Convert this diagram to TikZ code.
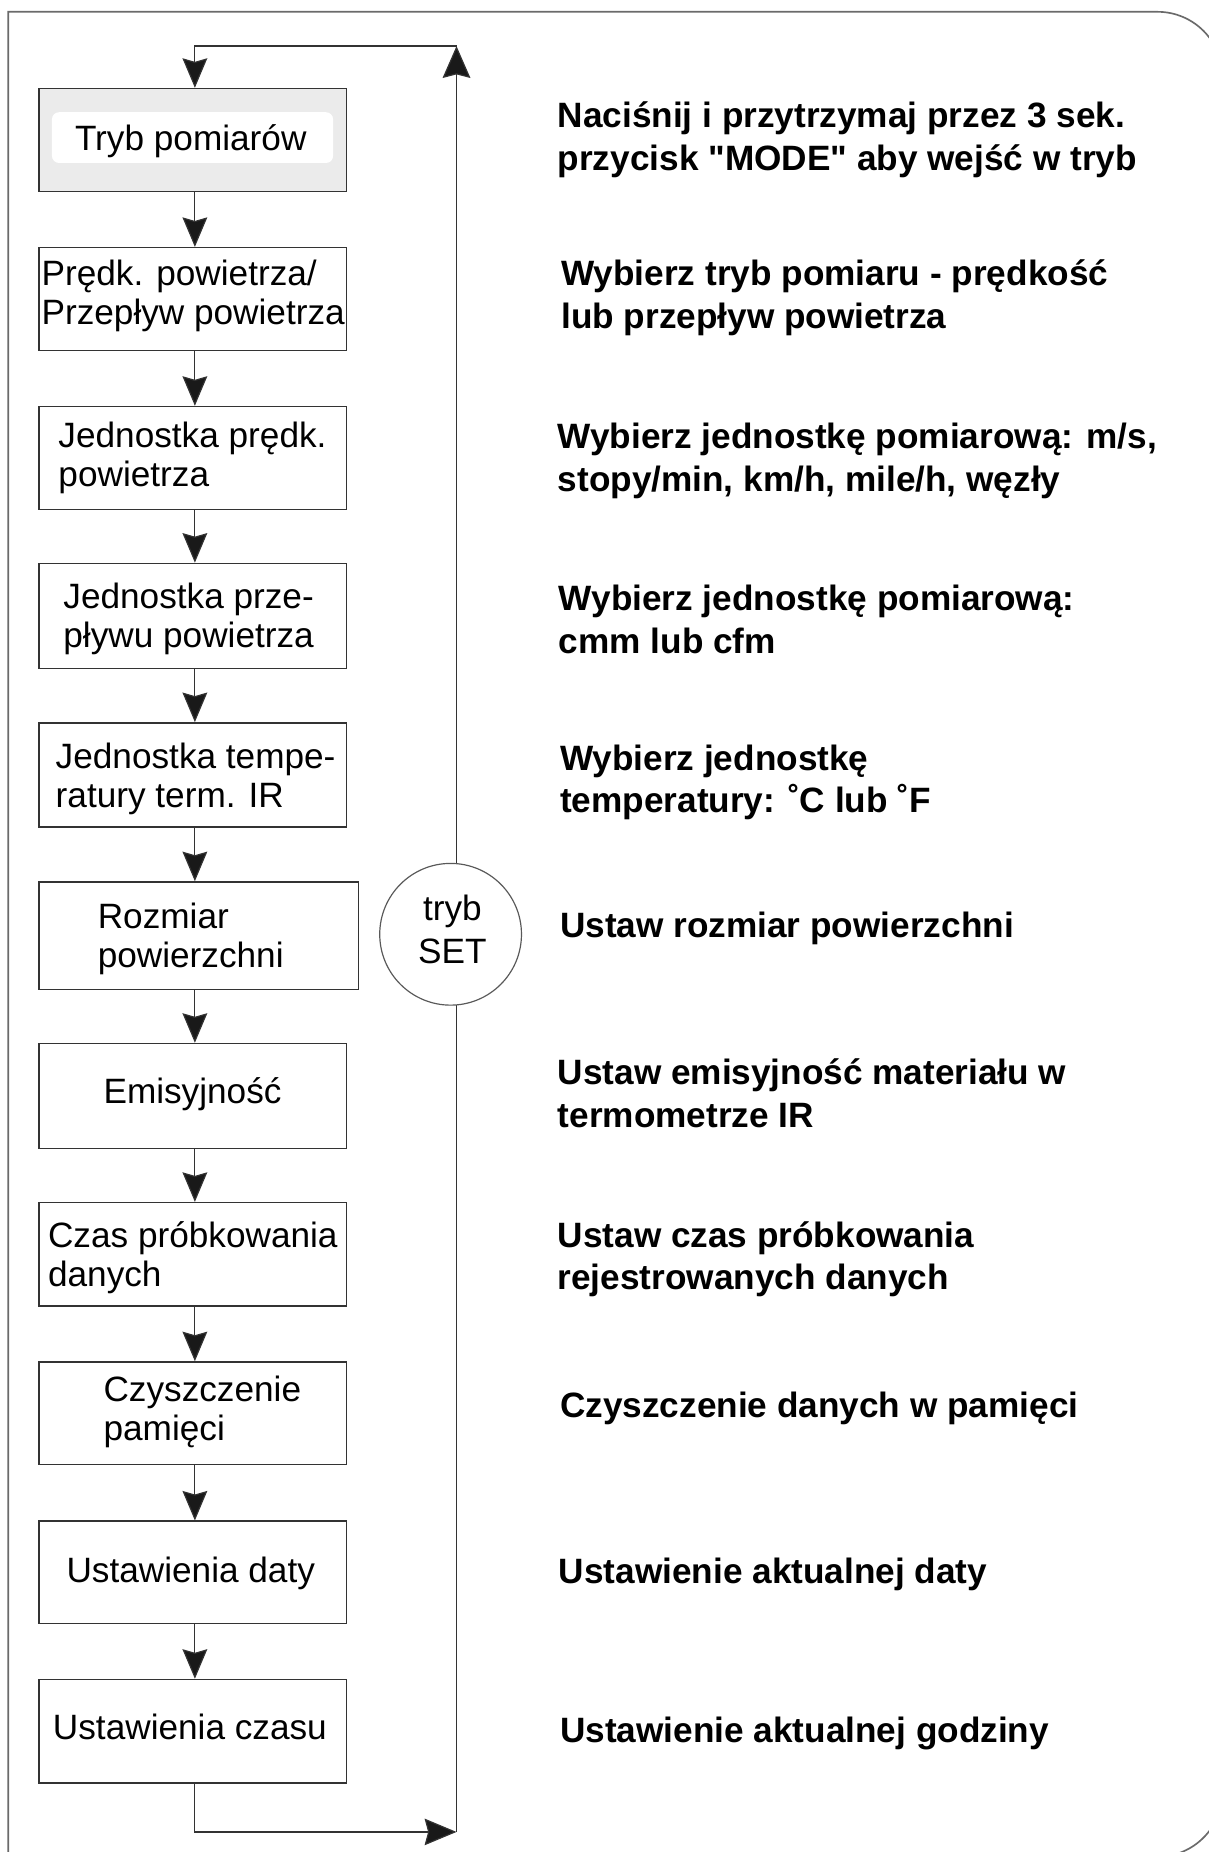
\documentclass[tikz,border=0pt]{standalone}
\usepackage{fontspec}
\setmainfont{Liberation Sans}[Ligatures=TeXOff]
\usetikzlibrary{arrows.meta}
\newcommand\bxfont{\fontsize{29.8pt}{33pt}\selectfont}
\newcommand\rtfont{\fontsize{29.8pt}{36pt}\selectfont\bfseries}
\definecolor{lineg}{HTML}{333333}
\definecolor{bordg}{HTML}{6A6A6A}
\definecolor{boxfill}{HTML}{EBEBEB}
\begin{document}
\begin{tikzpicture}[x=1pt,y=-1pt,
  box/.style={draw=lineg, line width=1.3pt, rectangle, inner sep=0pt, minimum width=260.5pt, minimum height=87pt},
  conn/.style={draw=lineg, line width=1pt},
  tipd/.style={-{Stealth[length=25pt,width=21pt,inset=3pt,fill=black!90]}},
  tipu/.style={-{Stealth[length=27pt,width=23.5pt,inset=3pt,fill=black!90]}},
  tipr/.style={-{Stealth[length=27pt,width=22.5pt,inset=3pt,fill=black!90]}},
  bt/.style={inner sep=0pt, anchor=base west, font=\bxfont},
  bc/.style={inner sep=0pt, anchor=base, font=\bxfont},
  rt/.style={inner sep=0pt, anchor=base west, font=\rtfont}]
\useasboundingbox (0,0) rectangle (1023,1568);
\fill[white] (0,0) rectangle (1023,1568);

% outer border
\draw[draw=bordg, line width=1.4pt] (7,1600) -- (7,10) -- (500,10) [rounded corners=55pt] -- (1035,10) -- (1035,1572) -- (500,1572);

% boxes
\node[box, fill=boxfill] (b1) at (163.3,118.5) {};
\fill[white, rounded corners=6pt] (44,95) rectangle (282,138);
\node[box] (b2) at (163.3,253.2) {};
\node[box] (b3) at (163.3,387.7) {};
\node[box, minimum height=89pt] (b4) at (163.3,521.5) {};
\node[box, minimum height=88pt] (b5) at (163.3,656) {};
\node[box, minimum width=270.7pt, minimum height=91pt] (b6) at (168.3,792.2) {};
\node[box, minimum height=89pt] (b7) at (163.3,928) {};
\node[box, minimum height=87.6pt] (b8) at (163.3,1062) {};
\node[box] (b9) at (163.3,1196.6) {};
\node[box, minimum height=86.5pt] (b10) at (163.3,1331.2) {};
\node[box, minimum height=87.7pt] (b11) at (163.3,1465.8) {};

% box texts
\node[bc] (t1) at (161.5,127) {Tryb pomiarów};
\node[bt] (t2a) at (35,242) {Prędk. powietrza/};
\node[bt] (t2b) at (35,275) {Przepływ powietrza};
\node[bt] (t3a) at (49.3,378.5) {Jednostka prędk.};
\node[bt] (t3b) at (49.3,411.5) {powietrza};
\node[bt] (t4a) at (53.5,515.5) {Jednostka prze-};
\node[bt] (t4b) at (53.5,548.5) {pływu powietrza};
\node[bt] (t5a) at (47,651) {Jednostka tempe-};
\node[bt] (t5b) at (47,684) {ratury term. IR};
\node[bt] (t6a) at (82.6,786.5) {Rozmiar};
\node[bt] (t6b) at (82.6,819.5) {powierzchni};
\node[bc] (t7) at (163,934.5) {Emisyjność};
\node[bt] (t8a) at (40.5,1056) {Czas próbkowania};
\node[bt] (t8b) at (40.5,1089) {danych};
\node[bt] (t9a) at (87.5,1186.5) {Czyszczenie};
\node[bt] (t9b) at (87.5,1219.5) {pamięci};
\node[bc] (t10) at (161.5,1340) {Ustawienia daty};
\node[bc] (t11) at (160.8,1472.7) {Ustawienia czasu};

% connectors
\coordinate (col) at (165,0);
\coordinate (tl) at (165,39);
\coordinate (tr) at (386.5,39);
\coordinate (br) at (386.5,1551);
\coordinate (bl) at (165,1551);
\foreach \a/\b in {b1/b2,b2/b3,b3/b4,b4/b5,b5/b6,b6/b7,b7/b8,b8/b9,b9/b10,b10/b11}
  \draw[conn, tipd] (\a.south -| col) -- (\b.north -| col);
\draw[conn, tipr] (b11.south -| col) -- (bl) -- (br);
\draw[conn, tipu] (br) -- (tr);
\draw[conn, tipd] (tr) -- (tl) -- (b1.north -| col);

% SET circle
\node[circle, draw=black!65, line width=1pt, fill=white, minimum size=120pt, inner sep=0pt] (set) at (381.5,791) {};
\node[bc] (s1) at (383,779) {tryb};
\node[bc] (s2) at (383,816) {SET};

% right descriptions
\node[rt] (r1a) at (472,108) {Naciśnij i przytrzymaj przez 3 sek.};
\node[rt] (r1b) at (472,144) {przycisk "MODE" aby wejść w tryb};
\node[rt] (r2a) at (475,242) {Wybierz tryb pomiaru - prędkość};
\node[rt] (r2b) at (475,278) {lub przepływ powietrza};
\node[rt] (r3a) at (472,380) {Wybierz jednostkę pomiarową: m/s,};
\node[rt] (r3b) at (472,416) {stopy/min, km/h, mile/h, węzły};
\node[rt] (r4a) at (473,517) {Wybierz jednostkę pomiarową:};
\node[rt] (r4b) at (473,553) {cmm lub cfm};
\node[rt] (r5a) at (474,652) {Wybierz jednostkę};
\node[rt] (r5b) at (474,688) {temperatury: ˚C lub ˚F};
\node[rt] (r6) at (474,794) {Ustaw rozmiar powierzchni};
\node[rt] (r7a) at (472,918) {Ustaw emisyjność materiału w};
\node[rt] (r7b) at (472,954.5) {termometrze IR};
\node[rt] (r8a) at (472,1056) {Ustaw czas próbkowania};
\node[rt] (r8b) at (472,1092) {rejestrowanych danych};
\node[rt] (r9) at (474,1200) {Czyszczenie danych w pamięci};
\node[rt] (r10) at (473,1341) {Ustawienie aktualnej daty};
\node[rt] (r11) at (474,1475) {Ustawienie aktualnej godziny};
\end{tikzpicture}
\end{document}
